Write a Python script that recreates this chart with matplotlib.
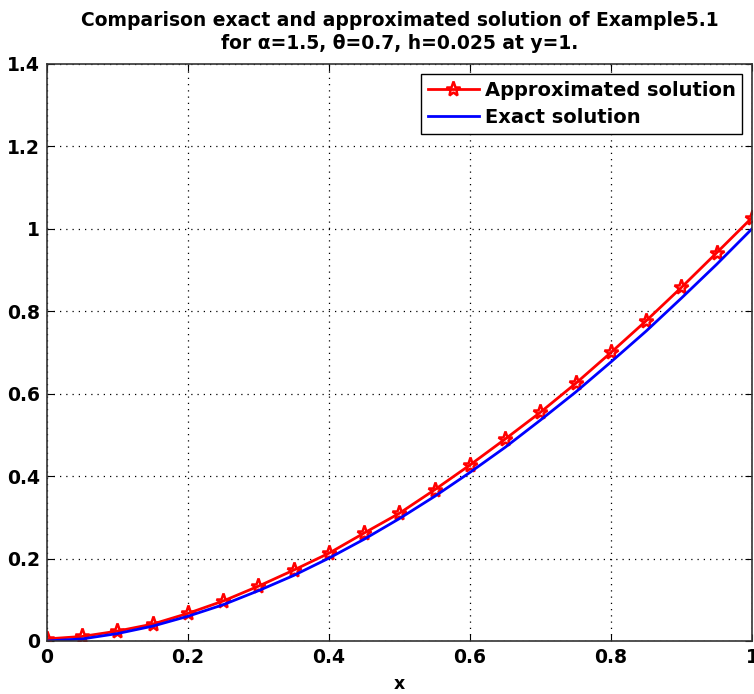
import numpy as np
import matplotlib
matplotlib.use('Agg')
import matplotlib.pyplot as plt

plt.rcParams['font.family'] = ['DejaVu Sans']
plt.rcParams['font.weight'] = 'bold'

# x nodes (markers every 0.05)
x = [0, 0.05, 0.1, 0.15, 0.2, 0.25, 0.3, 0.35, 0.4, 0.45, 0.5,
     0.55, 0.6, 0.65, 0.7, 0.75, 0.8, 0.85, 0.9, 0.95, 1.0]

# values
approx = [0.005, 0.011, 0.024, 0.041, 0.067, 0.097, 0.133, 0.172, 0.213, 0.262, 0.31,
          0.367, 0.427, 0.49, 0.555, 0.625, 0.70, 0.777, 0.858, 0.942, 1.027]
exact = [0.0, 0.005, 0.018, 0.036, 0.060, 0.088, 0.122, 0.159, 0.201, 0.247, 0.297,
         0.351, 0.409, 0.470, 0.536, 0.604, 0.677, 0.752, 0.832, 0.914, 1.0]

xticks = [0, 0.2, 0.4, 0.6, 0.8, 1]
yticks = [0, 0.2, 0.4, 0.6, 0.8, 1, 1.2, 1.4]
xticklabels = ['0', '0.2', '0.4', '0.6', '0.8', '1']
yticklabels = ['0', '0.2', '0.4', '0.6', '0.8', '1', '1.2', '1.4']

fig = plt.figure(figsize=(7.54, 6.94), dpi=100)
ax = fig.add_axes([0.0623, 0.0764, 0.935, 0.8314])

ax.plot(x, approx, color='red', lw=2, marker='*', ms=11, mfc='none', mew=1.8,
        label='Approximated solution')
ax.plot(x, exact, color='blue', lw=2, label='Exact solution')

ax.set_xlim(0, 1)
ax.set_ylim(0, 1.4)
ax.set_xticks(xticks)
ax.set_yticks(yticks)
ax.set_xticklabels(xticklabels)
ax.set_yticklabels(yticklabels)
ax.tick_params(direction='in', top=True, right=True, labelsize=13.5, length=5, pad=5)
ax.grid(True, color='black', linestyle=(0, (1, 4)), linewidth=0.9)
for s in ax.spines.values():
    s.set_linewidth(1.2)
    s.set_color('#333333')

ax.set_xlabel('x', fontsize=12.5, fontweight='bold', labelpad=6)
ax.set_title('Comparison exact and approximated solution of Example5.1\n'
             'for \u03b1=1.5, \u03b8=0.7, h=0.025 at y=1.', fontsize=13.5,
             fontweight='bold', pad=11, linespacing=1.25)

leg = ax.legend(loc='upper right', fontsize=14, fancybox=False, framealpha=1,
                edgecolor='black', borderaxespad=0.5, handlelength=2.6,
                handletextpad=0.3, borderpad=0.35, labelspacing=0.45)
leg.get_frame().set_linewidth(1.0)

fig.savefig('out.png', dpi=100)
